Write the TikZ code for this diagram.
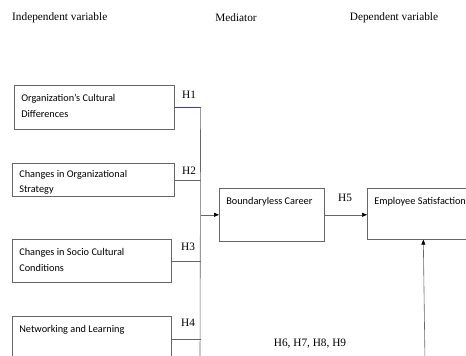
\documentclass[tikz,border=0pt]{standalone}
\usepackage{fontspec}
\setmainfont{Liberation Serif}
\newfontfamily\carlito{Carlito}
\usetikzlibrary{positioning, arrows.meta}
\newcommand{\boxtxt}[4][16pt]{\parbox[c][#3][t]{#2}{\rule{0pt}{#1}#4}}

\begin{document}
\begin{tikzpicture}[x=1pt,y=-1pt,>={Triangle[length=5pt,width=4pt,color=black]},
  hd/.style={font=\fontsize{11.3}{13}\selectfont,inner sep=0pt},
  bx/.style={draw=black!60,line width=0.6pt,anchor=north west,inner xsep=7pt,inner ysep=0pt,
    font=\carlito\fontsize{10.3}{16}\selectfont},
  ln/.style={draw=black!60,line width=0.6pt}]
  \useasboundingbox (0,0) rectangle (466,356);
  \clip (0,0) rectangle (466,356);
  % column headings
  \node[hd,anchor=west](hdIV) at (12,18){Independent variable};
  \node[hd](hdMed) at (236,18){Mediator};
  \node[hd](hdDV) at (394,18){Dependent variable};
  % independent variables
  \node[bx](org) at (14,85){\boxtxt{146pt}{44pt}{Organization’s Cultural\\Differences}};
  \node[bx](strat) at (12,163){\boxtxt[14.5pt]{148pt}{33pt}{Changes in Organizational\\[-1pt]Strategy}};
  \node[bx](socio) at (12,239){\boxtxt{145pt}{43pt}{Changes in Socio Cultural\\Conditions}};
  \node[bx](netw) at (12,316){\boxtxt{145pt}{45pt}{Networking and Learning}};
  % mediator and outcome
  \node[bx](bc) at (219,188){\boxtxt{91pt}{53pt}{Boundaryless Career}};
  \node[bx](es) at (367,188){\boxtxt{98pt}{51pt}{Employee Satisfaction}};
  % trunk
  \path (org.east) ++(26,0) coordinate (tk);
  \coordinate (bt) at (200,362);
  \coordinate (src) at (425,362);
  \draw[ln,draw=blue!55!gray](org.east)--(org.east -| tk);
  \draw[ln](tk)--(bt);
  \draw[ln](strat.east)--(strat.east -| tk);
  \draw[ln](socio.east)--(socio.east -| tk);
  \draw[ln](netw.east)--(netw.east -| tk);
  \draw[ln,->](bc.west -| tk)--(bc.west);
  \draw[ln,->](bc.east)--(bc.east -| es.west);
  \draw[ln,->](src)--(es.south);
  % hypotheses
  \node[hd](h1) at (189,95){H1};
  \node[hd](h2) at (189,171){H2};
  \node[hd](h3) at (188,247){H3};
  \node[hd](h4) at (188,323){H4};
  \node[hd](h5) at (345,198){H5};
  \node[hd](h69) at (310,344){H6, H7, H8, H9};
\end{tikzpicture}
\end{document}
